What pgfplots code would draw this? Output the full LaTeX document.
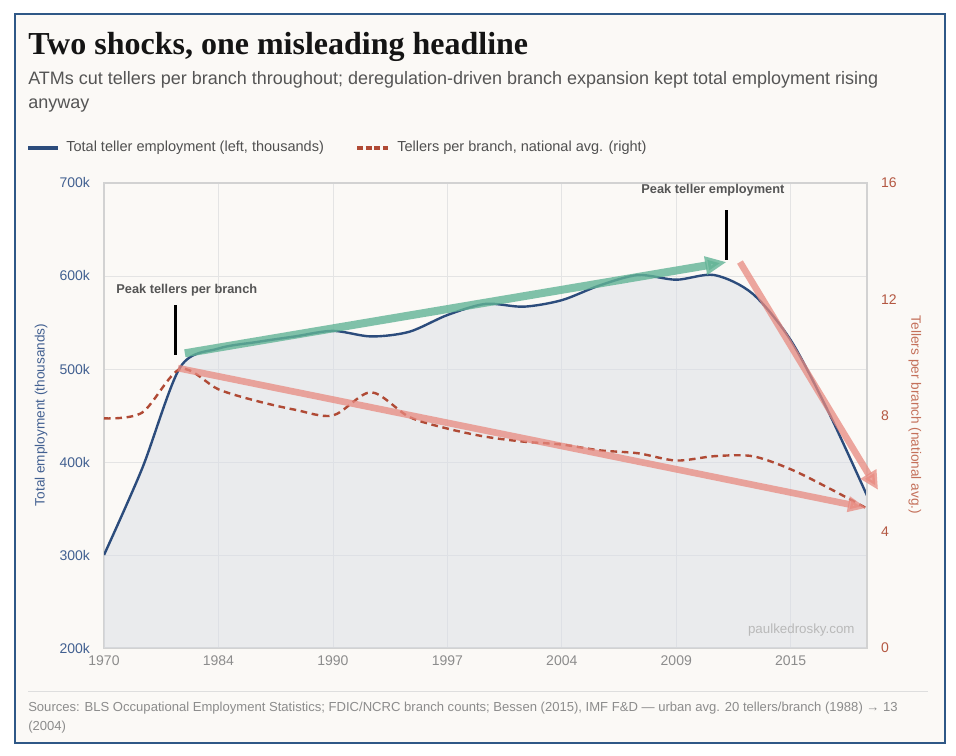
\documentclass[border=0pt]{standalone}
\usepackage{fontspec}
\setmainfont{Liberation Sans}
\newfontfamily\titlefont{Liberation Serif}
\usepackage{pgfplots}
\pgfplotsset{compat=1.18}
\usetikzlibrary{arrows.meta}
\definecolor{bgc}{RGB}{251,249,246}
\definecolor{framec}{RGB}{47,88,135}
\definecolor{titlec}{RGB}{20,20,20}
\definecolor{subc}{RGB}{85,85,85}
\definecolor{legc}{RGB}{80,80,80}
\definecolor{bluec}{RGB}{44,76,124}
\definecolor{redc}{RGB}{176,74,53}
\definecolor{fillc}{RGB}{218,222,230}
\definecolor{gridc}{RGB}{228,228,228}
\definecolor{axisc}{RGB}{210,210,210}
\definecolor{xtc}{RGB}{140,140,140}
\definecolor{leftc}{RGB}{66,96,145}
\definecolor{rightc}{RGB}{180,88,66}
\definecolor{rightlab}{RGB}{196,112,90}
\definecolor{greenc}{RGB}{98,180,150}
\definecolor{pinkc}{RGB}{232,138,128}
\definecolor{annc}{RGB}{85,85,85}
\definecolor{wmc}{RGB}{185,185,185}
\definecolor{srcc}{RGB}{140,140,140}
\definecolor{sepc}{RGB}{222,222,222}

\pgfplotstableread{
x y
0 300
1 393
2 502
3 522
4 529
5 535
6 541
7 535
8 540
9 558
10 570
11 567
12 574
13 590
14 601
15 596
16 601
17 581
18 531
19 453
20 364
}\employment

\pgfplotstableread{
x y
0 7.9
1 8.1
2 9.6
3 8.9
4 8.5
5 8.2
6 8.0
7 8.8
8 7.95
9 7.55
10 7.27
11 7.1
12 7.0
13 6.8
14 6.7
15 6.45
16 6.6
17 6.6
18 6.15
19 5.5
20 4.8
}\perbranch

\begin{document}
\begin{tikzpicture}
\begin{scope}[x=0.75pt,y=0.75pt]
\useasboundingbox (0,0) rectangle (956,756);
\fill[white] (0,0) rectangle (956,756);
\fill[bgc] (15,742) rectangle (945,13);
\draw[framec, line width=1.5pt] (15,742) rectangle (945,13);

\node[anchor=base west, inner sep=0, text=titlec] at (28,701) {\titlefont\bfseries\fontsize{24}{28}\selectfont Two shocks, one misleading headline};
\node[anchor=base west, inner sep=0, text=subc] at (28,671) {\fontsize{13.5}{16}\selectfont ATMs cut tellers per branch throughout; deregulation-driven branch expansion kept total employment rising};
\node[anchor=base west, inner sep=0, text=subc] at (28,647) {\fontsize{13.5}{16}\selectfont anyway};

\draw[bluec, line width=2.7pt] (28,608) -- (58,608);
\node[anchor=west, inner sep=0, text=legc] at (66,608) {\fontsize{10.9}{13}\selectfont Total teller employment (left, thousands)};
\draw[redc, line width=2.3pt, dash pattern=on 4.5pt off 2pt] (357,608) -- (388,608);
\node[anchor=west, inner sep=0, text=legc] at (397,608) {\fontsize{10.9}{13}\selectfont Tellers per branch, national avg. (right)};

\node[rotate=90, text=leftc, inner sep=0] at (41,341) {\fontsize{10.2}{12}\selectfont Total employment (thousands)};
\node[rotate=-90, text=rightlab, inner sep=0] at (915,341) {\fontsize{10.2}{12}\selectfont Tellers per branch (national avg.)};

\draw[sepc, line width=0.75pt] (28,64) -- (928,64);
\node[anchor=base west, inner sep=0, text=srcc] at (28,44) {\fontsize{9.8}{12}\selectfont Sources: BLS Occupational Employment Statistics; FDIC/NCRC branch counts; Bessen (2015), IMF F\&D — urban avg. 20 tellers/branch (1988) → 13};
\node[anchor=base west, inner sep=0, text=srcc] at (28,25) {\fontsize{9.8}{12}\selectfont (2004)};
\end{scope}

\begin{axis}[
  at={(78pt,81pt)}, anchor=south west, scale only axis,
  width=572.25pt, height=348.75pt,
  xmin=0, xmax=20, ymin=200, ymax=700,
  xtick={0,3,...,18}, xticklabels={1970,1984,1990,1997,2004,2009,2015},
  ytick={200,300,...,700}, yticklabels={200k,300k,400k,500k,600k,700k},
  grid=major, grid style={gridc, line width=0.6pt},
  axis line style={axisc, line width=0.8pt},
  major tick length=0pt,
  tick label style={font=\fontsize{10.5}{12}\selectfont},
  xticklabel style={text=xtc, yshift=-2pt},
  yticklabel style={text=leftc, xshift=-7pt},
]
\addplot[draw=none, fill=fillc, fill opacity=0.5, smooth] table[x=x,y=y] {\employment} \closedcycle;
\addplot[bluec, line width=1.8pt, smooth] table[x=x,y=y] {\employment};
\end{axis}

\begin{axis}[
  at={(78pt,81pt)}, anchor=south west, scale only axis,
  width=572.25pt, height=348.75pt,
  xmin=0, xmax=20, ymin=0, ymax=16,
  axis y line*=right, axis x line=none,
  ytick={0,4,8,12,16}, yticklabels={0,4,8,12,16},
  axis line style={axisc, line width=0.8pt},
  major tick length=0pt,
  tick label style={font=\fontsize{10.5}{12}\selectfont},
  yticklabel style={text=rightc, xshift=7pt},
  clip=false,
]
\addplot[redc, line width=1.8pt, dash pattern=on 5pt off 3.5pt, smooth] table[x=x,y=y] {\perbranch};
\draw[greenc, opacity=0.8, line width=6pt, -{Triangle[length=16pt,width=13pt]}] (axis cs:2.12,10.14) -- (axis cs:16.32,13.28);
\draw[pinkc, opacity=0.75, line width=5pt, -{Triangle[length=14pt,width=11pt]}] (axis cs:1.94,9.63) -- (axis cs:19.99,4.82);
\draw[pinkc, opacity=0.75, line width=5pt, -{Triangle[length=14pt,width=13pt]}] (axis cs:16.67,13.28) -- (axis cs:20.29,5.44);
\draw[black, line width=2pt] (axis cs:1.88,11.80) -- (axis cs:1.88,10.08);
\draw[black, line width=2pt] (axis cs:16.32,15.07) -- (axis cs:16.32,13.34);
\node[text=annc, font=\bfseries\fontsize{9.6}{11}\selectfont] at (axis cs:2.17,12.32) {Peak tellers per branch};
\node[text=annc, font=\bfseries\fontsize{9.6}{11}\selectfont] at (axis cs:15.96,15.74) {Peak teller employment};
\node[anchor=east, inner sep=0, text=wmc, font=\fontsize{10}{12}\selectfont] at (axis cs:19.68,0.61) {paulkedrosky.com};
\end{axis}
\end{tikzpicture}
\end{document}
